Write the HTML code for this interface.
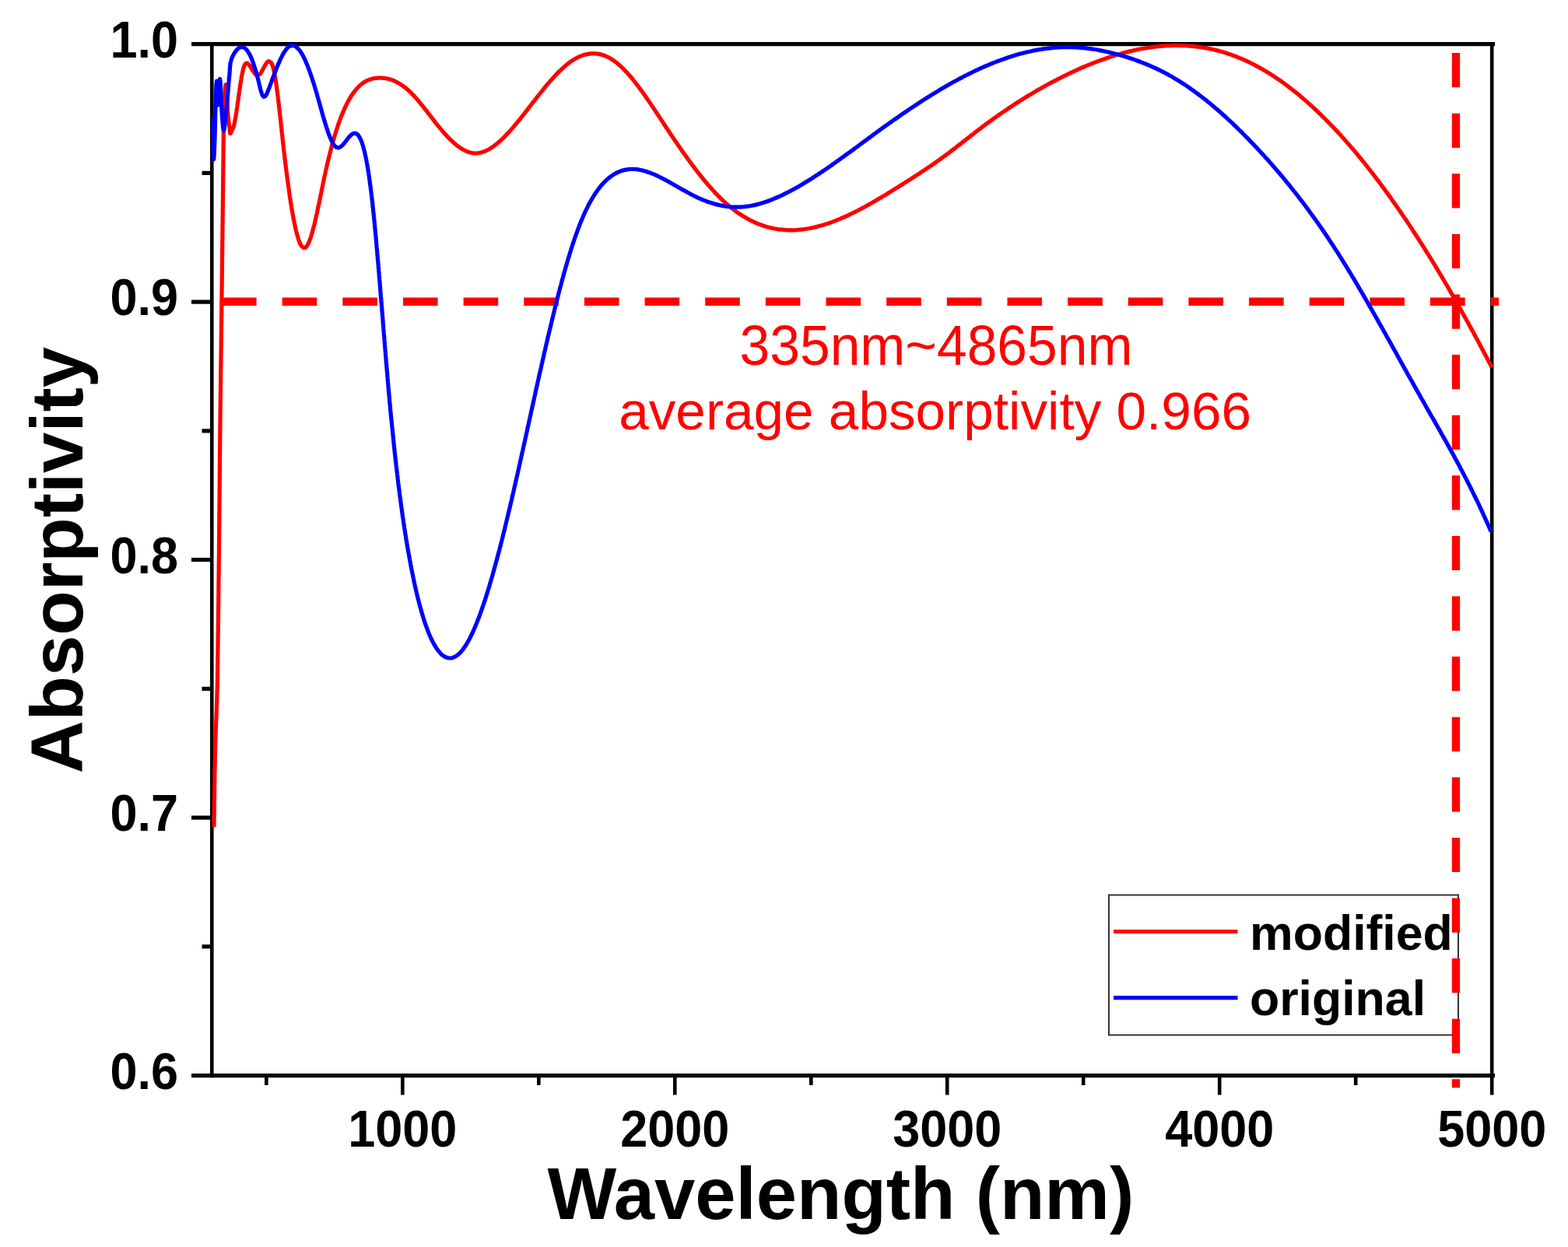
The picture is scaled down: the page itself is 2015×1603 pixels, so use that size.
<!DOCTYPE html><html><head><meta charset="utf-8"><title>Absorptivity vs Wavelength</title><style>html,body{margin:0;padding:0;background:#fff;overflow:hidden;}svg{display:block;}</style></head><body>
<svg width="2015" height="1603" viewBox="0 0 2015 1603">
<rect width="2015" height="1603" fill="#fff"/>
<g stroke="#000" fill="none">
<line x1="246" y1="56.6" x2="1921" y2="56.6" stroke-width="5.2"/>
<line x1="246" y1="1382.6" x2="1921" y2="1382.6" stroke-width="5.2"/>
<line x1="272.3" y1="54" x2="272.3" y2="1385.2" stroke-width="4.6"/>
<line x1="1917.2" y1="54" x2="1917.2" y2="1407.5" stroke-width="4.6"/>
<line x1="246" y1="388.1" x2="272.3" y2="388.1" stroke-width="5.2"/>
<line x1="246" y1="719.6" x2="272.3" y2="719.6" stroke-width="5.2"/>
<line x1="246" y1="1051.1" x2="272.3" y2="1051.1" stroke-width="5.2"/>
<line x1="259.5" y1="222.4" x2="272.3" y2="222.4" stroke-width="5.2"/>
<line x1="259.5" y1="553.9" x2="272.3" y2="553.9" stroke-width="5.2"/>
<line x1="259.5" y1="885.4" x2="272.3" y2="885.4" stroke-width="5.2"/>
<line x1="259.5" y1="1216.8" x2="272.3" y2="1216.8" stroke-width="5.2"/>
<line x1="517.3" y1="1382.6" x2="517.3" y2="1407.5" stroke-width="4.6"/>
<line x1="867.3" y1="1382.6" x2="867.3" y2="1407.5" stroke-width="4.6"/>
<line x1="1217.2" y1="1382.6" x2="1217.2" y2="1407.5" stroke-width="4.6"/>
<line x1="1567.2" y1="1382.6" x2="1567.2" y2="1407.5" stroke-width="4.6"/>
<line x1="342.3" y1="1382.6" x2="342.3" y2="1395" stroke-width="4.6"/>
<line x1="692.3" y1="1382.6" x2="692.3" y2="1395" stroke-width="4.6"/>
<line x1="1042.3" y1="1382.6" x2="1042.3" y2="1395" stroke-width="4.6"/>
<line x1="1392.2" y1="1382.6" x2="1392.2" y2="1395" stroke-width="4.6"/>
<line x1="1742.2" y1="1382.6" x2="1742.2" y2="1395" stroke-width="4.6"/>
</g>
<rect x="1425" y="1150.5" width="449" height="180" fill="none" stroke="#333" stroke-width="2"/>
<line x1="285" y1="387.8" x2="1926" y2="387.8" stroke="#ff0000" stroke-width="10.5" stroke-dasharray="44.6 33.05"/>
<line x1="1871" y1="68.1" x2="1871" y2="1398.2" stroke="#ff0000" stroke-width="10.3" stroke-dasharray="44.2 33.4"/>
<path d="M275.0,1063.0 C275.2,1046.7 275.8,997.2 276.5,965.0 C277.2,932.8 278.7,914.2 279.5,870.0 C280.3,825.8 280.9,755.0 281.5,700.0 C282.1,645.0 282.4,593.3 283.0,540.0 C283.6,486.7 284.4,428.3 285.0,380.0 C285.6,331.7 286.1,284.7 286.5,250.0 C286.9,215.3 287.0,192.3 287.3,172.0 C287.6,151.7 288.1,138.5 288.5,128.0 C288.9,117.5 289.5,110.0 290.0,109.0 C290.5,108.0 291.0,115.5 291.5,122.0 C292.0,128.5 292.4,141.0 293.0,148.0 C293.6,155.0 294.3,160.5 295.0,164.0 C295.7,167.5 294.6,176.1 297.4,169.0 L300.3,162.6 L301.1,159.4 L301.7,156.3 L302.3,153.2 L302.8,150.2 L303.3,147.1 L303.8,144.1 L304.2,141.1 L304.7,138.1 L305.1,135.1 L305.5,132.1 L306.0,129.1 L306.4,126.2 L306.8,123.2 L307.2,120.2 L307.6,117.3 L308.1,114.3 L308.5,111.4 L308.9,108.5 L309.4,105.5 L309.9,102.6 L310.3,99.7 L310.9,96.9 L311.4,94.0 L312.0,91.2 L312.6,88.5 L313.4,85.9 L314.3,83.5 L315.6,81.6 L317.7,81.1 L320.5,83.8 L322.2,86.5 L323.8,89.1 L325.4,91.6 L327.0,94.0 L328.8,96.0 L331.1,97.0 L334.1,95.2 L336.0,92.4 L337.5,89.6 L339.0,87.0 L340.4,84.4 L341.9,82.0 L343.5,79.8 L345.6,78.6 L348.6,80.7 L350.2,84.1 L351.2,87.4 L351.9,90.6 L352.6,93.7 L353.2,96.8 L353.7,99.9 L354.2,102.9 L354.7,106.0 L355.1,109.0 L355.5,112.0 L355.9,115.1 L356.3,118.1 L356.7,121.1 L357.1,124.1 L357.4,127.1 L357.8,130.1 L358.2,133.1 L358.5,136.1 L358.8,139.1 L359.2,142.1 L359.5,145.1 L359.8,148.1 L360.2,151.1 L360.5,154.1 L360.8,157.1 L361.1,160.1 L361.5,163.1 L361.8,166.0 L362.1,169.0 L362.4,172.0 L362.8,175.0 L363.1,177.9 L363.4,180.9 L363.7,183.9 L364.1,186.9 L364.4,189.8 L364.7,192.8 L365.1,195.8 L365.4,198.7 L365.8,201.7 L366.1,204.7 L366.5,207.6 L366.8,210.6 L367.2,213.5 L367.6,216.5 L367.9,219.5 L368.3,222.4 L368.7,225.4 L369.1,228.3 L369.5,231.3 L369.9,234.2 L370.3,237.2 L370.7,240.1 L371.1,243.1 L371.5,246.0 L371.9,249.0 L372.3,251.9 L372.8,254.9 L373.2,257.8 L373.7,260.7 L374.2,263.7 L374.6,266.6 L375.1,269.5 L375.6,272.4 L376.1,275.3 L376.7,278.3 L377.2,281.2 L377.8,284.1 L378.3,286.9 L379.0,289.8 L379.6,292.7 L380.2,295.5 L380.9,298.4 L381.7,301.2 L382.5,304.0 L383.3,306.7 L384.2,309.4 L385.2,312.0 L386.4,314.5 L387.8,316.7 L389.7,318.4 L392.3,318.4 L394.9,315.5 L396.5,312.5 L397.7,309.6 L398.8,306.6 L399.8,303.6 L400.7,300.6 L401.5,297.7 L402.3,294.7 L403.1,291.8 L403.9,288.8 L404.6,285.8 L405.3,282.9 L405.9,279.9 L406.6,277.0 L407.3,274.0 L407.9,271.1 L408.5,268.1 L409.1,265.2 L409.8,262.2 L410.4,259.3 L411.0,256.3 L411.6,253.4 L412.2,250.4 L412.8,247.5 L413.4,244.5 L414.0,241.6 L414.6,238.7 L415.2,235.7 L415.8,232.8 L416.4,229.9 L417.0,227.0 L417.7,224.1 L418.3,221.1 L418.9,218.2 L419.6,215.3 L420.2,212.4 L420.9,209.5 L421.6,206.6 L422.3,203.7 L423.0,200.8 L423.7,198.0 L424.4,195.1 L425.2,192.2 L425.9,189.3 L426.7,186.5 L427.5,183.6 L428.3,180.7 L429.1,177.9 L429.9,175.0 L430.8,172.2 L431.7,169.4 L432.6,166.5 L433.5,163.7 L434.4,160.9 L435.4,158.1 L436.4,155.3 L437.4,152.6 L438.5,149.8 L439.6,147.1 L440.7,144.3 L441.9,141.6 L443.1,138.9 L444.3,136.3 L445.6,133.6 L447.0,131.0 L448.4,128.5 L449.9,125.9 L451.4,123.4 L453.0,121.0 L454.7,118.6 L456.5,116.3 L458.4,114.1 L460.4,111.9 L462.5,109.9 L464.7,108.0 L467.0,106.3 L469.5,104.8 L472.1,103.4 L474.9,102.3 L477.7,101.4 L480.6,100.8 L483.5,100.3 L486.5,100.1 L489.5,100.1 L492.5,100.3 L495.5,100.7 L498.5,101.3 L501.4,102.1 L504.3,103.0 L507.1,104.2 L509.8,105.5 L512.5,107.0 L515.1,108.5 L517.6,110.3 L520.0,112.1 L522.4,114.0 L524.7,116.0 L526.9,118.0 L529.1,120.2 L531.2,122.4 L533.3,124.6 L535.3,126.9 L537.3,129.1 L539.2,131.5 L541.1,133.8 L543.0,136.1 L544.9,138.5 L546.7,140.9 L548.6,143.2 L550.4,145.6 L552.3,148.0 L554.1,150.4 L555.9,152.7 L557.8,155.1 L559.6,157.5 L561.5,159.8 L563.3,162.1 L565.2,164.4 L567.1,166.7 L569.1,169.0 L571.0,171.2 L573.0,173.4 L575.0,175.6 L577.1,177.8 L579.2,179.9 L581.4,181.9 L583.5,183.9 L585.8,185.8 L588.1,187.7 L590.5,189.4 L593.0,191.0 L595.5,192.5 L598.1,193.9 L600.8,195.0 L603.7,195.9 L606.5,196.6 L609.5,196.9 L612.5,197.0 L615.5,196.6 L618.4,196.0 L621.4,195.1 L624.2,194.0 L626.9,192.7 L629.6,191.2 L632.1,189.5 L634.6,187.8 L637.1,185.9 L639.4,184.0 L641.7,182.0 L644.0,180.0 L646.2,177.9 L648.3,175.8 L650.4,173.6 L652.5,171.4 L654.5,169.2 L656.5,166.9 L658.5,164.6 L660.5,162.4 L662.4,160.0 L664.4,157.7 L666.3,155.4 L668.2,153.1 L670.0,150.7 L671.9,148.4 L673.8,146.0 L675.6,143.6 L677.5,141.3 L679.3,138.9 L681.2,136.5 L683.0,134.2 L684.8,131.8 L686.7,129.4 L688.5,127.1 L690.4,124.7 L692.2,122.4 L694.1,120.0 L696.0,117.7 L697.8,115.3 L699.7,113.0 L701.6,110.7 L703.5,108.4 L705.5,106.1 L707.4,103.9 L709.4,101.6 L711.4,99.4 L713.4,97.2 L715.4,95.1 L717.5,92.9 L719.6,90.8 L721.8,88.8 L724.0,86.8 L726.2,84.8 L728.5,82.9 L730.8,81.1 L733.2,79.3 L735.6,77.7 L738.2,76.1 L740.7,74.7 L743.4,73.3 L746.1,72.2 L748.9,71.1 L751.7,70.3 L754.6,69.6 L757.6,69.1 L760.5,68.9 L763.5,68.8 L766.5,69.0 L769.5,69.4 L772.5,70.1 L775.4,71.0 L778.2,72.0 L781.0,73.3 L783.7,74.7 L786.3,76.3 L788.8,78.0 L791.3,79.8 L793.7,81.7 L796.0,83.7 L798.2,85.7 L800.4,87.8 L802.5,90.0 L804.6,92.2 L806.7,94.4 L808.7,96.7 L810.7,99.0 L812.6,101.3 L814.5,103.6 L816.4,106.0 L818.2,108.4 L820.0,110.8 L821.8,113.2 L823.6,115.6 L825.4,118.1 L827.2,120.5 L828.9,123.0 L830.6,125.5 L832.3,127.9 L834.0,130.4 L835.7,132.9 L837.4,135.4 L839.1,137.9 L840.7,140.4 L842.4,142.9 L844.0,145.4 L845.7,147.9 L847.3,150.4 L849.0,152.9 L850.6,155.5 L852.3,158.0 L853.9,160.5 L855.6,163.0 L857.2,165.5 L858.9,168.0 L860.5,170.5 L862.2,173.0 L863.9,175.4 L865.5,177.9 L867.2,180.4 L868.9,182.9 L870.6,185.4 L872.3,187.8 L874.0,190.3 L875.7,192.7 L877.4,195.2 L879.1,197.6 L880.9,200.1 L882.6,202.5 L884.4,204.9 L886.1,207.4 L887.9,209.8 L889.7,212.2 L891.5,214.6 L893.3,216.9 L895.1,219.3 L896.9,221.7 L898.8,224.0 L900.7,226.4 L902.5,228.7 L904.4,231.0 L906.3,233.3 L908.2,235.6 L910.2,237.9 L912.1,240.1 L914.1,242.3 L916.1,244.5 L918.2,246.7 L920.2,248.9 L922.3,251.1 L924.4,253.2 L926.5,255.3 L928.6,257.3 L930.8,259.4 L933.0,261.4 L935.3,263.3 L937.5,265.3 L939.8,267.2 L942.2,269.0 L944.5,270.8 L946.9,272.6 L949.4,274.3 L951.9,275.9 L954.4,277.5 L956.9,279.1 L959.5,280.6 L962.1,282.0 L964.7,283.4 L967.4,284.7 L970.1,286.0 L972.9,287.2 L975.6,288.3 L978.4,289.3 L981.3,290.3 L984.1,291.2 L987.0,292.0 L989.9,292.7 L992.8,293.4 L995.7,294.0 L998.7,294.5 L1001.6,294.9 L1004.6,295.2 L1007.6,295.5 L1010.6,295.7 L1013.6,295.8 L1016.6,295.8 L1019.6,295.8 L1022.6,295.7 L1025.6,295.5 L1028.6,295.2 L1031.6,294.9 L1034.5,294.5 L1037.5,294.0 L1040.5,293.5 L1043.4,292.9 L1046.3,292.3 L1049.3,291.6 L1052.2,290.8 L1055.1,290.0 L1058.0,289.2 L1060.8,288.3 L1063.7,287.4 L1066.5,286.4 L1069.4,285.4 L1072.2,284.3 L1075.0,283.2 L1077.8,282.1 L1080.6,280.9 L1083.3,279.7 L1086.1,278.5 L1088.8,277.3 L1091.5,276.0 L1094.2,274.7 L1096.9,273.4 L1099.6,272.0 L1102.3,270.7 L1105.0,269.3 L1107.6,267.9 L1110.3,266.4 L1112.9,265.0 L1115.5,263.5 L1118.2,262.1 L1120.8,260.6 L1123.4,259.1 L1126.0,257.6 L1128.5,256.0 L1131.1,254.5 L1133.7,253.0 L1136.3,251.4 L1138.8,249.9 L1141.4,248.3 L1144.0,246.7 L1146.5,245.1 L1149.1,243.5 L1151.6,242.0 L1154.2,240.4 L1156.7,238.8 L1159.2,237.2 L1161.8,235.6 L1164.3,234.0 L1166.8,232.3 L1169.4,230.7 L1171.9,229.1 L1174.4,227.5 L1177.0,225.9 L1179.5,224.2 L1182.0,222.6 L1184.5,220.9 L1187.0,219.3 L1189.5,217.6 L1192.0,215.9 L1194.5,214.3 L1197.0,212.6 L1199.4,210.8 L1201.9,209.1 L1204.3,207.4 L1206.8,205.7 L1209.2,203.9 L1211.7,202.1 L1214.1,200.4 L1216.5,198.6 L1218.9,196.8 L1221.3,195.0 L1223.7,193.1 L1226.1,191.3 L1228.5,189.5 L1230.8,187.6 L1233.2,185.8 L1235.6,184.0 L1237.9,182.1 L1240.3,180.3 L1242.7,178.4 L1245.0,176.6 L1247.4,174.7 L1249.8,172.9 L1252.1,171.0 L1254.5,169.2 L1256.9,167.4 L1259.3,165.6 L1261.6,163.8 L1264.0,161.9 L1266.4,160.2 L1268.8,158.4 L1271.3,156.6 L1273.7,154.8 L1276.1,153.1 L1278.5,151.3 L1281.0,149.6 L1283.4,147.9 L1285.9,146.2 L1288.3,144.5 L1290.8,142.8 L1293.3,141.1 L1295.8,139.4 L1298.3,137.7 L1300.8,136.1 L1303.3,134.4 L1305.8,132.8 L1308.3,131.2 L1310.8,129.6 L1313.4,128.0 L1315.9,126.4 L1318.5,124.8 L1321.0,123.3 L1323.6,121.7 L1326.2,120.2 L1328.7,118.7 L1331.3,117.1 L1333.9,115.6 L1336.5,114.2 L1339.1,112.7 L1341.7,111.2 L1344.4,109.8 L1347.0,108.3 L1349.6,106.9 L1352.3,105.5 L1354.9,104.1 L1357.6,102.7 L1360.2,101.3 L1362.9,100.0 L1365.6,98.7 L1368.3,97.3 L1371.0,96.0 L1373.7,94.7 L1376.4,93.4 L1379.1,92.2 L1381.8,90.9 L1384.5,89.7 L1387.3,88.4 L1390.0,87.2 L1392.8,86.0 L1395.5,84.9 L1398.3,83.7 L1401.1,82.6 L1403.8,81.5 L1406.6,80.4 L1409.4,79.3 L1412.2,78.2 L1415.0,77.2 L1417.9,76.2 L1420.7,75.2 L1423.5,74.2 L1426.4,73.3 L1429.2,72.3 L1432.1,71.4 L1434.9,70.6 L1437.8,69.7 L1440.7,68.9 L1443.6,68.1 L1446.5,67.3 L1449.4,66.6 L1452.3,65.9 L1455.2,65.2 L1458.1,64.5 L1461.0,63.9 L1464.0,63.3 L1466.9,62.7 L1469.9,62.2 L1472.8,61.7 L1475.8,61.2 L1478.8,60.8 L1481.7,60.4 L1484.7,60.0 L1487.7,59.7 L1490.7,59.4 L1493.7,59.1 L1496.6,58.9 L1499.6,58.7 L1502.6,58.6 L1505.6,58.5 L1508.6,58.4 L1511.6,58.4 L1514.6,58.4 L1517.6,58.5 L1520.6,58.6 L1523.6,58.7 L1526.6,58.9 L1529.6,59.1 L1532.6,59.4 L1535.6,59.7 L1538.6,60.1 L1541.5,60.5 L1544.5,60.9 L1547.5,61.4 L1550.4,61.9 L1553.4,62.5 L1556.3,63.1 L1559.3,63.7 L1562.2,64.4 L1565.1,65.1 L1568.0,65.9 L1570.9,66.7 L1573.8,67.6 L1576.6,68.5 L1579.5,69.4 L1582.3,70.4 L1585.2,71.5 L1588.0,72.5 L1590.8,73.6 L1593.6,74.8 L1596.3,75.9 L1599.1,77.1 L1601.8,78.4 L1604.6,79.7 L1607.3,81.0 L1610.0,82.3 L1612.6,83.7 L1615.3,85.1 L1617.9,86.6 L1620.5,88.0 L1623.2,89.5 L1625.8,91.1 L1628.3,92.6 L1630.9,94.2 L1633.4,95.8 L1636.0,97.4 L1638.5,99.1 L1641.0,100.8 L1643.5,102.5 L1645.9,104.2 L1648.4,105.9 L1650.8,107.7 L1653.2,109.5 L1655.6,111.3 L1658.0,113.1 L1660.4,115.0 L1662.8,116.8 L1665.1,118.7 L1667.4,120.6 L1669.8,122.5 L1672.1,124.5 L1674.4,126.4 L1676.6,128.4 L1678.9,130.4 L1681.2,132.4 L1683.4,134.4 L1685.6,136.4 L1687.8,138.4 L1690.1,140.5 L1692.2,142.5 L1694.4,144.6 L1696.6,146.7 L1698.7,148.8 L1700.9,150.9 L1703.0,153.0 L1705.1,155.2 L1707.2,157.3 L1709.3,159.5 L1711.4,161.6 L1713.5,163.8 L1715.6,166.0 L1717.6,168.2 L1719.7,170.4 L1721.7,172.6 L1723.7,174.8 L1725.7,177.1 L1727.7,179.3 L1729.7,181.6 L1731.7,183.8 L1733.7,186.1 L1735.7,188.4 L1737.6,190.7 L1739.6,192.9 L1741.5,195.2 L1743.4,197.5 L1745.4,199.9 L1747.3,202.2 L1749.2,204.5 L1751.1,206.8 L1753.0,209.2 L1754.8,211.5 L1756.7,213.9 L1758.6,216.2 L1760.4,218.6 L1762.3,221.0 L1764.1,223.4 L1765.9,225.7 L1767.8,228.1 L1769.6,230.5 L1771.4,232.9 L1773.2,235.3 L1775.0,237.7 L1776.8,240.2 L1778.6,242.6 L1780.3,245.0 L1782.1,247.4 L1783.9,249.9 L1785.6,252.3 L1787.4,254.8 L1789.1,257.2 L1790.8,259.7 L1792.6,262.1 L1794.3,264.6 L1796.0,267.0 L1797.7,269.5 L1799.4,272.0 L1801.1,274.5 L1802.8,277.0 L1804.5,279.4 L1806.2,281.9 L1807.9,284.4 L1809.5,286.9 L1811.2,289.4 L1812.8,291.9 L1814.5,294.4 L1816.1,297.0 L1817.8,299.5 L1819.4,302.0 L1821.1,304.5 L1822.7,307.0 L1824.3,309.6 L1825.9,312.1 L1827.5,314.6 L1829.1,317.2 L1830.7,319.7 L1832.3,322.3 L1833.9,324.8 L1835.5,327.4 L1837.1,329.9 L1838.7,332.5 L1840.2,335.0 L1841.8,337.6 L1843.4,340.2 L1844.9,342.7 L1846.5,345.3 L1848.0,347.9 L1849.6,350.5 L1851.1,353.0 L1852.7,355.6 L1854.2,358.2 L1855.7,360.8 L1857.2,363.4 L1858.8,366.0 L1860.3,368.6 L1861.8,371.2 L1863.3,373.8 L1864.8,376.4 L1866.3,379.0 L1867.8,381.6 L1869.3,384.2 L1870.8,386.8 L1872.3,389.4 L1873.7,392.0 L1875.2,394.6 L1876.7,397.2 L1878.2,399.9 L1879.6,402.5 L1881.1,405.1 L1882.5,407.7 L1884.0,410.4 L1885.5,413.0 L1886.9,415.6 L1888.3,418.3 L1889.8,420.9 L1891.2,423.5 L1892.7,426.2 L1894.1,428.8 L1895.5,431.5 L1896.9,434.1 L1898.4,436.7 L1899.8,439.4 L1901.2,442.0 L1902.6,444.7 L1904.0,447.3 L1905.4,450.0 L1906.8,452.7 L1908.2,455.3 L1909.6,458.0 L1911.0,460.6 L1912.4,463.3 L1913.8,466.0 L1915.2,468.6 L1916.6,471.3 L1917.0,472.1" fill="none" stroke="#ff0000" stroke-width="5.2" stroke-linejoin="round" stroke-linecap="butt"/>
<path d="M273.8,150.0 C273.9,159.0 274.1,199.3 274.5,204.0 C274.9,208.7 275.5,192.3 276.0,178.0 C276.5,163.7 277.0,130.2 277.5,118.0 C278.0,105.8 278.5,102.2 279.0,105.0 C279.5,107.8 279.9,134.2 280.3,135.0 C280.7,135.8 281.1,115.2 281.5,110.0 C281.9,104.8 282.4,97.7 283.0,104.0 C283.6,110.3 284.6,137.3 285.3,148.0 C286.1,158.7 286.7,167.7 287.5,168.0 C288.3,168.3 289.2,157.3 290.0,150.0 C290.8,142.7 291.7,133.2 292.5,124.0 C293.3,114.8 294.1,103.2 295.0,95.0 C295.9,86.8 294.5,83.2 297.8,74.9 L299.0,72.3 L300.4,69.8 L301.8,67.3 L303.5,65.0 L305.3,63.0 L307.5,61.3 L310.1,60.4 L313.1,60.9 L315.8,62.8 L318.0,65.3 L319.7,68.1 L321.3,70.9 L322.6,73.7 L323.8,76.6 L324.9,79.5 L325.9,82.5 L326.9,85.4 L327.8,88.3 L328.7,91.3 L329.5,94.2 L330.3,97.2 L331.1,100.1 L331.9,103.0 L332.6,106.0 L333.3,108.9 L334.0,111.8 L334.7,114.7 L335.5,117.5 L336.3,120.1 L337.3,122.6 L338.6,124.4 L341.0,123.7 L343.0,120.4 L344.2,117.4 L345.3,114.5 L346.4,111.7 L347.4,108.9 L348.5,106.1 L349.5,103.2 L350.5,100.4 L351.6,97.6 L352.6,94.8 L353.7,92.1 L354.8,89.3 L355.9,86.5 L357.0,83.8 L358.2,81.1 L359.4,78.4 L360.6,75.7 L361.9,73.1 L363.2,70.5 L364.6,68.0 L366.2,65.5 L367.9,63.2 L369.7,61.2 L371.9,59.5 L374.5,58.5 L377.4,58.6 L380.3,60.0 L382.8,62.2 L384.9,64.6 L386.7,67.2 L388.3,69.9 L389.8,72.6 L391.2,75.4 L392.5,78.2 L393.7,81.0 L394.9,83.8 L396.0,86.7 L397.1,89.5 L398.1,92.4 L399.2,95.3 L400.1,98.2 L401.1,101.0 L402.0,103.9 L403.0,106.8 L403.9,109.7 L404.7,112.6 L405.6,115.5 L406.5,118.4 L407.3,121.3 L408.1,124.2 L409.0,127.1 L409.8,130.0 L410.6,132.9 L411.4,135.8 L412.2,138.7 L413.0,141.5 L413.8,144.4 L414.6,147.3 L415.4,150.2 L416.3,153.0 L417.1,155.9 L418.0,158.7 L418.9,161.6 L419.8,164.4 L420.7,167.2 L421.6,170.0 L422.6,172.7 L423.7,175.4 L424.8,178.1 L426.0,180.7 L427.3,183.3 L428.7,185.7 L430.4,187.8 L432.4,189.5 L435.1,189.9 L438.0,188.5 L440.4,186.3 L442.5,184.0 L444.4,181.5 L446.2,179.2 L448.0,176.8 L449.9,174.7 L452.0,172.8 L454.4,171.4 L457.2,171.3 L460.1,173.4 L462.0,176.3 L463.5,179.3 L464.7,182.3 L465.7,185.3 L466.7,188.3 L467.5,191.3 L468.3,194.4 L469.0,197.4 L469.6,200.4 L470.3,203.4 L470.9,206.4 L471.4,209.4 L472.0,212.5 L472.5,215.5 L473.0,218.5 L473.5,221.5 L473.9,224.5 L474.4,227.5 L474.8,230.6 L475.2,233.6 L475.6,236.6 L476.0,239.6 L476.4,242.6 L476.8,245.6 L477.2,248.6 L477.5,251.7 L477.9,254.7 L478.2,257.7 L478.6,260.7 L478.9,263.7 L479.2,266.7 L479.5,269.7 L479.8,272.7 L480.2,275.7 L480.5,278.7 L480.8,281.7 L481.1,284.7 L481.4,287.7 L481.6,290.7 L481.9,293.7 L482.2,296.7 L482.5,299.8 L482.8,302.8 L483.1,305.8 L483.3,308.8 L483.6,311.8 L483.9,314.8 L484.1,317.7 L484.4,320.7 L484.7,323.7 L484.9,326.7 L485.2,329.7 L485.4,332.7 L485.7,335.7 L486.0,338.7 L486.2,341.7 L486.5,344.7 L486.7,347.7 L487.0,350.7 L487.2,353.7 L487.5,356.7 L487.7,359.7 L488.0,362.7 L488.2,365.7 L488.5,368.7 L488.7,371.7 L488.9,374.7 L489.2,377.7 L489.4,380.7 L489.7,383.6 L489.9,386.6 L490.2,389.6 L490.4,392.6 L490.7,395.6 L490.9,398.6 L491.1,401.6 L491.4,404.6 L491.6,407.6 L491.9,410.6 L492.1,413.6 L492.3,416.6 L492.6,419.5 L492.8,422.5 L493.1,425.5 L493.3,428.5 L493.6,431.5 L493.8,434.5 L494.0,437.5 L494.3,440.5 L494.5,443.4 L494.8,446.4 L495.0,449.4 L495.3,452.4 L495.5,455.4 L495.8,458.4 L496.0,461.4 L496.2,464.3 L496.5,467.3 L496.7,470.3 L497.0,473.3 L497.2,476.3 L497.5,479.3 L497.8,482.2 L498.0,485.2 L498.3,488.2 L498.5,491.2 L498.8,494.2 L499.0,497.2 L499.3,500.1 L499.6,503.1 L499.8,506.1 L500.1,509.1 L500.4,512.0 L500.6,515.0 L500.9,518.0 L501.2,521.0 L501.5,524.0 L501.7,526.9 L502.0,529.9 L502.3,532.9 L502.6,535.9 L502.9,538.8 L503.2,541.8 L503.5,544.8 L503.8,547.8 L504.1,550.7 L504.4,553.7 L504.7,556.7 L505.0,559.6 L505.3,562.6 L505.6,565.6 L505.9,568.6 L506.2,571.5 L506.5,574.5 L506.8,577.5 L507.1,580.4 L507.5,583.4 L507.8,586.4 L508.1,589.4 L508.5,592.3 L508.8,595.3 L509.1,598.3 L509.5,601.2 L509.8,604.2 L510.2,607.2 L510.5,610.1 L510.9,613.1 L511.2,616.1 L511.6,619.0 L511.9,622.0 L512.3,624.9 L512.7,627.9 L513.1,630.9 L513.4,633.8 L513.8,636.8 L514.2,639.7 L514.6,642.7 L515.0,645.7 L515.4,648.6 L515.8,651.6 L516.2,654.5 L516.6,657.5 L517.0,660.4 L517.4,663.4 L517.9,666.3 L518.3,669.3 L518.7,672.2 L519.2,675.2 L519.6,678.1 L520.1,681.1 L520.5,684.0 L521.0,687.0 L521.5,689.9 L521.9,692.9 L522.4,695.8 L522.9,698.7 L523.4,701.7 L523.9,704.6 L524.4,707.6 L524.9,710.5 L525.5,713.4 L526.0,716.4 L526.5,719.3 L527.1,722.2 L527.6,725.2 L528.2,728.1 L528.7,731.0 L529.3,733.9 L529.9,736.8 L530.5,739.8 L531.1,742.7 L531.7,745.6 L532.3,748.5 L532.9,751.4 L533.6,754.3 L534.2,757.2 L534.9,760.1 L535.6,763.0 L536.3,765.9 L537.0,768.8 L537.7,771.6 L538.4,774.5 L539.2,777.4 L540.0,780.3 L540.8,783.1 L541.6,786.0 L542.4,788.8 L543.2,791.6 L544.1,794.5 L545.0,797.3 L545.9,800.1 L546.9,802.9 L547.9,805.7 L548.9,808.4 L549.9,811.2 L551.0,813.9 L552.1,816.6 L553.3,819.3 L554.6,822.0 L555.9,824.6 L557.2,827.2 L558.7,829.7 L560.2,832.2 L561.8,834.6 L563.5,836.9 L565.4,839.1 L567.4,841.2 L569.6,843.0 L572.1,844.5 L574.7,845.5 L577.6,846.0 L580.6,845.8 L583.5,844.8 L586.3,843.3 L588.8,841.4 L591.1,839.3 L593.2,837.0 L595.1,834.6 L596.9,832.0 L598.6,829.5 L600.2,826.8 L601.7,824.2 L603.2,821.5 L604.6,818.8 L606.0,816.0 L607.3,813.3 L608.5,810.5 L609.7,807.7 L610.9,804.9 L612.1,802.1 L613.2,799.3 L614.3,796.5 L615.4,793.6 L616.5,790.8 L617.5,788.0 L618.5,785.1 L619.5,782.3 L620.5,779.4 L621.5,776.5 L622.4,773.7 L623.4,770.8 L624.3,767.9 L625.2,765.0 L626.1,762.2 L627.0,759.3 L627.9,756.4 L628.8,753.5 L629.6,750.6 L630.5,747.7 L631.3,744.8 L632.2,741.9 L633.0,739.0 L633.8,736.1 L634.6,733.2 L635.4,730.3 L636.2,727.4 L637.0,724.5 L637.8,721.6 L638.6,718.7 L639.4,715.8 L640.1,712.9 L640.9,710.0 L641.7,707.1 L642.4,704.1 L643.2,701.2 L643.9,698.3 L644.7,695.4 L645.4,692.5 L646.1,689.6 L646.8,686.6 L647.6,683.7 L648.3,680.8 L649.0,677.9 L649.7,675.0 L650.4,672.0 L651.1,669.1 L651.8,666.2 L652.5,663.3 L653.2,660.3 L653.9,657.4 L654.6,654.5 L655.3,651.6 L656.0,648.6 L656.7,645.7 L657.4,642.8 L658.0,639.9 L658.7,636.9 L659.4,634.0 L660.1,631.1 L660.7,628.1 L661.4,625.2 L662.1,622.3 L662.7,619.4 L663.4,616.4 L664.0,613.5 L664.7,610.6 L665.4,607.6 L666.0,604.7 L666.7,601.8 L667.3,598.8 L668.0,595.9 L668.6,593.0 L669.3,590.1 L669.9,587.1 L670.6,584.2 L671.2,581.3 L671.9,578.3 L672.5,575.4 L673.2,572.5 L673.8,569.5 L674.5,566.6 L675.1,563.7 L675.8,560.7 L676.4,557.8 L677.1,554.9 L677.7,552.0 L678.3,549.0 L679.0,546.1 L679.6,543.2 L680.3,540.2 L680.9,537.3 L681.6,534.4 L682.2,531.4 L682.8,528.5 L683.5,525.6 L684.1,522.7 L684.8,519.7 L685.4,516.8 L686.1,513.9 L686.7,510.9 L687.4,508.0 L688.0,505.1 L688.6,502.2 L689.3,499.2 L689.9,496.3 L690.6,493.4 L691.2,490.4 L691.9,487.5 L692.5,484.6 L693.2,481.7 L693.8,478.7 L694.5,475.8 L695.2,472.9 L695.8,470.0 L696.5,467.0 L697.1,464.1 L697.8,461.2 L698.5,458.3 L699.1,455.4 L699.8,452.4 L700.5,449.5 L701.1,446.6 L701.8,443.7 L702.5,440.8 L703.2,437.8 L703.8,434.9 L704.5,432.0 L705.2,429.1 L705.9,426.2 L706.6,423.3 L707.3,420.3 L708.0,417.4 L708.7,414.5 L709.4,411.6 L710.1,408.7 L710.8,405.8 L711.5,402.9 L712.2,400.0 L712.9,397.1 L713.6,394.2 L714.4,391.3 L715.1,388.4 L715.8,385.5 L716.5,382.6 L717.3,379.7 L718.0,376.8 L718.8,373.9 L719.5,371.0 L720.3,368.1 L721.1,365.2 L721.8,362.3 L722.6,359.4 L723.4,356.6 L724.2,353.7 L725.0,350.8 L725.8,347.9 L726.6,345.0 L727.4,342.2 L728.3,339.3 L729.1,336.4 L729.9,333.6 L730.8,330.7 L731.7,327.9 L732.5,325.0 L733.4,322.2 L734.3,319.3 L735.2,316.5 L736.1,313.7 L737.1,310.8 L738.0,308.0 L739.0,305.2 L740.0,302.4 L741.0,299.6 L742.0,296.8 L743.0,294.0 L744.1,291.2 L745.1,288.5 L746.2,285.7 L747.4,283.0 L748.5,280.2 L749.7,277.5 L750.9,274.8 L752.1,272.1 L753.4,269.4 L754.7,266.8 L756.0,264.1 L757.4,261.5 L758.8,258.9 L760.3,256.4 L761.8,253.8 L763.3,251.3 L764.9,248.8 L766.6,246.4 L768.3,244.0 L770.1,241.6 L771.9,239.3 L773.8,237.1 L775.8,234.9 L777.9,232.8 L780.0,230.8 L782.3,228.9 L784.6,227.1 L787.0,225.4 L789.5,223.8 L792.1,222.4 L794.7,221.1 L797.5,220.0 L800.3,219.1 L803.2,218.4 L806.1,217.9 L809.1,217.5 L812.1,217.4 L815.1,217.5 L818.1,217.7 L821.1,218.1 L824.0,218.7 L827.0,219.4 L829.9,220.2 L832.7,221.2 L835.6,222.2 L838.4,223.3 L841.2,224.4 L843.9,225.7 L846.6,227.0 L849.3,228.3 L852.0,229.7 L854.7,231.1 L857.3,232.5 L860.0,233.9 L862.6,235.4 L865.2,236.9 L867.8,238.4 L870.4,239.9 L873.0,241.4 L875.6,242.9 L878.2,244.4 L880.8,245.8 L883.4,247.3 L886.1,248.7 L888.7,250.1 L891.4,251.5 L894.0,252.8 L896.7,254.1 L899.5,255.3 L902.2,256.5 L905.0,257.6 L907.8,258.7 L910.6,259.7 L913.4,260.6 L916.3,261.5 L919.1,262.4 L922.0,263.1 L925.0,263.8 L927.9,264.4 L930.8,264.9 L933.8,265.3 L936.8,265.7 L939.7,266.0 L942.7,266.1 L945.7,266.2 L948.7,266.2 L951.7,266.1 L954.7,265.9 L957.7,265.6 L960.7,265.2 L963.7,264.8 L966.6,264.2 L969.6,263.6 L972.5,262.9 L975.4,262.2 L978.3,261.3 L981.2,260.5 L984.0,259.5 L986.9,258.5 L989.7,257.5 L992.5,256.4 L995.3,255.2 L998.1,254.0 L1000.8,252.8 L1003.5,251.6 L1006.3,250.3 L1009.0,248.9 L1011.6,247.6 L1014.3,246.2 L1017.0,244.8 L1019.6,243.4 L1022.2,241.9 L1024.9,240.4 L1027.5,238.9 L1030.1,237.4 L1032.6,235.9 L1035.2,234.3 L1037.8,232.7 L1040.3,231.2 L1042.9,229.6 L1045.4,227.9 L1047.9,226.3 L1050.5,224.7 L1053.0,223.0 L1055.5,221.3 L1058.0,219.7 L1060.4,218.0 L1062.9,216.3 L1065.4,214.6 L1067.9,212.9 L1070.3,211.1 L1072.8,209.4 L1075.2,207.7 L1077.7,205.9 L1080.1,204.2 L1082.5,202.4 L1085.0,200.7 L1087.4,198.9 L1089.8,197.1 L1092.3,195.4 L1094.7,193.6 L1097.1,191.8 L1099.5,190.0 L1101.9,188.3 L1104.3,186.5 L1106.8,184.7 L1109.2,182.9 L1111.6,181.1 L1114.0,179.4 L1116.4,177.6 L1118.8,175.8 L1121.2,174.0 L1123.7,172.2 L1126.1,170.5 L1128.5,168.7 L1130.9,166.9 L1133.4,165.2 L1135.8,163.4 L1138.2,161.7 L1140.7,159.9 L1143.1,158.2 L1145.6,156.5 L1148.0,154.7 L1150.5,153.0 L1152.9,151.3 L1155.4,149.6 L1157.8,147.9 L1160.3,146.2 L1162.8,144.5 L1165.2,142.8 L1167.7,141.1 L1170.2,139.4 L1172.7,137.8 L1175.2,136.1 L1177.7,134.5 L1180.2,132.8 L1182.7,131.2 L1185.2,129.5 L1187.8,127.9 L1190.3,126.3 L1192.8,124.7 L1195.4,123.1 L1197.9,121.5 L1200.5,120.0 L1203.0,118.4 L1205.6,116.9 L1208.1,115.3 L1210.7,113.8 L1213.3,112.3 L1215.9,110.8 L1218.5,109.3 L1221.1,107.8 L1223.7,106.3 L1226.3,104.9 L1229.0,103.5 L1231.6,102.0 L1234.2,100.6 L1236.9,99.2 L1239.6,97.8 L1242.2,96.5 L1244.9,95.1 L1247.6,93.8 L1250.3,92.5 L1253.0,91.2 L1255.7,89.9 L1258.4,88.7 L1261.1,87.4 L1263.9,86.2 L1266.6,85.0 L1269.4,83.8 L1272.1,82.7 L1274.9,81.5 L1277.7,80.4 L1280.5,79.3 L1283.3,78.3 L1286.1,77.2 L1288.9,76.2 L1291.7,75.2 L1294.5,74.2 L1297.4,73.3 L1300.2,72.4 L1303.1,71.5 L1306.0,70.6 L1308.9,69.8 L1311.7,69.0 L1314.6,68.3 L1317.5,67.5 L1320.5,66.8 L1323.4,66.2 L1326.3,65.5 L1329.2,64.9 L1332.2,64.4 L1335.1,63.8 L1338.1,63.4 L1341.1,62.9 L1344.0,62.5 L1347.0,62.1 L1350.0,61.8 L1353.0,61.5 L1355.9,61.2 L1358.9,61.0 L1361.9,60.9 L1364.9,60.7 L1367.9,60.7 L1370.9,60.6 L1373.9,60.6 L1376.9,60.7 L1379.9,60.8 L1382.9,60.9 L1385.9,61.1 L1388.9,61.3 L1391.9,61.6 L1394.9,61.9 L1397.9,62.3 L1400.8,62.6 L1403.8,63.1 L1406.8,63.5 L1409.8,64.0 L1412.7,64.6 L1415.7,65.1 L1418.6,65.7 L1421.5,66.4 L1424.5,67.0 L1427.4,67.7 L1430.3,68.4 L1433.2,69.2 L1436.1,70.0 L1439.0,70.8 L1441.9,71.6 L1444.8,72.5 L1447.6,73.3 L1450.5,74.3 L1453.4,75.2 L1456.2,76.1 L1459.0,77.1 L1461.9,78.2 L1464.7,79.2 L1467.5,80.3 L1470.3,81.4 L1473.1,82.5 L1475.9,83.7 L1478.6,84.9 L1481.4,86.1 L1484.1,87.3 L1486.8,88.6 L1489.5,89.9 L1492.2,91.2 L1494.9,92.6 L1497.6,94.0 L1500.2,95.4 L1502.9,96.9 L1505.5,98.3 L1508.1,99.9 L1510.7,101.4 L1513.3,103.0 L1515.8,104.5 L1518.3,106.2 L1520.9,107.8 L1523.4,109.4 L1525.9,111.1 L1528.4,112.8 L1530.8,114.6 L1533.3,116.3 L1535.7,118.1 L1538.1,119.8 L1540.5,121.6 L1542.9,123.5 L1545.3,125.3 L1547.7,127.2 L1550.1,129.0 L1552.4,130.9 L1554.7,132.8 L1557.0,134.7 L1559.4,136.7 L1561.6,138.6 L1563.9,140.6 L1566.2,142.5 L1568.5,144.5 L1570.7,146.5 L1572.9,148.5 L1575.2,150.5 L1577.4,152.6 L1579.6,154.6 L1581.8,156.7 L1584.0,158.7 L1586.2,160.8 L1588.3,162.9 L1590.5,165.0 L1592.6,167.1 L1594.8,169.2 L1596.9,171.3 L1599.0,173.5 L1601.1,175.6 L1603.2,177.7 L1605.3,179.9 L1607.4,182.1 L1609.5,184.2 L1611.6,186.4 L1613.6,188.6 L1615.7,190.8 L1617.7,193.0 L1619.8,195.2 L1621.8,197.4 L1623.8,199.6 L1625.8,201.9 L1627.9,204.1 L1629.9,206.3 L1631.9,208.6 L1633.8,210.8 L1635.8,213.1 L1637.8,215.4 L1639.8,217.7 L1641.7,219.9 L1643.7,222.2 L1645.6,224.5 L1647.5,226.8 L1649.5,229.1 L1651.4,231.4 L1653.3,233.8 L1655.2,236.1 L1657.1,238.4 L1659.0,240.8 L1660.8,243.1 L1662.7,245.5 L1664.6,247.8 L1666.4,250.2 L1668.3,252.6 L1670.1,255.0 L1671.9,257.3 L1673.8,259.7 L1675.6,262.1 L1677.4,264.5 L1679.2,267.0 L1681.0,269.4 L1682.7,271.8 L1684.5,274.2 L1686.3,276.7 L1688.0,279.1 L1689.8,281.5 L1691.5,284.0 L1693.3,286.4 L1695.0,288.9 L1696.7,291.4 L1698.4,293.8 L1700.1,296.3 L1701.8,298.8 L1703.5,301.3 L1705.2,303.8 L1706.9,306.3 L1708.5,308.8 L1710.2,311.3 L1711.8,313.8 L1713.5,316.3 L1715.1,318.9 L1716.7,321.4 L1718.4,323.9 L1720.0,326.4 L1721.6,329.0 L1723.2,331.5 L1724.8,334.1 L1726.4,336.6 L1727.9,339.2 L1729.5,341.7 L1731.1,344.3 L1732.7,346.9 L1734.2,349.4 L1735.8,352.0 L1737.3,354.6 L1738.9,357.2 L1740.4,359.7 L1741.9,362.3 L1743.5,364.9 L1745.0,367.5 L1746.5,370.1 L1748.0,372.7 L1749.6,375.3 L1751.1,377.9 L1752.6,380.5 L1754.1,383.1 L1755.6,385.7 L1757.1,388.3 L1758.6,390.9 L1760.1,393.5 L1761.6,396.1 L1763.1,398.7 L1764.5,401.3 L1766.0,403.9 L1767.5,406.5 L1769.0,409.1 L1770.5,411.7 L1771.9,414.4 L1773.4,417.0 L1774.9,419.6 L1776.4,422.2 L1777.8,424.8 L1779.3,427.4 L1780.8,430.1 L1782.2,432.7 L1783.7,435.3 L1785.2,437.9 L1786.6,440.5 L1788.1,443.2 L1789.5,445.8 L1791.0,448.4 L1792.5,451.0 L1793.9,453.6 L1795.4,456.3 L1796.8,458.9 L1798.3,461.5 L1799.8,464.1 L1801.2,466.8 L1802.7,469.4 L1804.1,472.0 L1805.6,474.6 L1807.0,477.2 L1808.5,479.9 L1810.0,482.5 L1811.4,485.1 L1812.9,487.7 L1814.4,490.3 L1815.8,492.9 L1817.3,495.6 L1818.8,498.2 L1820.2,500.8 L1821.7,503.4 L1823.2,506.0 L1824.7,508.6 L1826.1,511.2 L1827.6,513.8 L1829.1,516.4 L1830.6,519.0 L1832.1,521.7 L1833.5,524.3 L1835.0,526.9 L1836.5,529.5 L1838.0,532.1 L1839.5,534.7 L1841.0,537.3 L1842.5,539.9 L1844.0,542.5 L1845.4,545.1 L1846.9,547.7 L1848.4,550.3 L1849.9,552.9 L1851.4,555.5 L1852.8,558.2 L1854.3,560.8 L1855.8,563.4 L1857.3,566.0 L1858.7,568.6 L1860.2,571.2 L1861.7,573.9 L1863.1,576.5 L1864.6,579.1 L1866.0,581.8 L1867.5,584.4 L1868.9,587.0 L1870.3,589.7 L1871.8,592.3 L1873.2,595.0 L1874.6,597.6 L1876.0,600.3 L1877.4,602.9 L1878.8,605.6 L1880.2,608.2 L1881.6,610.9 L1883.0,613.6 L1884.4,616.3 L1885.7,618.9 L1887.1,621.6 L1888.5,624.3 L1889.8,627.0 L1891.2,629.7 L1892.5,632.4 L1893.8,635.1 L1895.1,637.8 L1896.5,640.5 L1897.8,643.2 L1899.1,645.9 L1900.4,648.6 L1901.6,651.3 L1902.9,654.1 L1904.2,656.8 L1905.5,659.5 L1906.7,662.3 L1908.0,665.0 L1909.2,667.7 L1910.4,670.5 L1911.7,673.2 L1912.9,676.0 L1914.1,678.7 L1915.3,681.5 L1916.0,683.1" fill="none" stroke="#0000ff" stroke-width="5.2" stroke-linejoin="round" stroke-linecap="butt"/>
<text transform="translate(229.0,73.7) scale(1,1.050)" x="0" y="0" font-family="Liberation Sans, Arial, Helvetica, sans-serif" font-size="63.0" font-weight="bold" fill="#000" text-anchor="end">1.0</text>
<text transform="translate(229.0,405.2) scale(1,1.050)" x="0" y="0" font-family="Liberation Sans, Arial, Helvetica, sans-serif" font-size="63.0" font-weight="bold" fill="#000" text-anchor="end">0.9</text>
<text transform="translate(229.0,736.7) scale(1,1.050)" x="0" y="0" font-family="Liberation Sans, Arial, Helvetica, sans-serif" font-size="63.0" font-weight="bold" fill="#000" text-anchor="end">0.8</text>
<text transform="translate(229.0,1068.2) scale(1,1.050)" x="0" y="0" font-family="Liberation Sans, Arial, Helvetica, sans-serif" font-size="63.0" font-weight="bold" fill="#000" text-anchor="end">0.7</text>
<text transform="translate(229.0,1399.7) scale(1,1.050)" x="0" y="0" font-family="Liberation Sans, Arial, Helvetica, sans-serif" font-size="63.0" font-weight="bold" fill="#000" text-anchor="end">0.6</text>
<text transform="translate(517.3,1473.7) scale(1,1.050)" x="0" y="0" font-family="Liberation Sans, Arial, Helvetica, sans-serif" font-size="63.0" font-weight="bold" fill="#000" text-anchor="middle">1000</text>
<text transform="translate(867.3,1473.7) scale(1,1.050)" x="0" y="0" font-family="Liberation Sans, Arial, Helvetica, sans-serif" font-size="63.0" font-weight="bold" fill="#000" text-anchor="middle">2000</text>
<text transform="translate(1217.2,1473.7) scale(1,1.050)" x="0" y="0" font-family="Liberation Sans, Arial, Helvetica, sans-serif" font-size="63.0" font-weight="bold" fill="#000" text-anchor="middle">3000</text>
<text transform="translate(1567.2,1473.7) scale(1,1.050)" x="0" y="0" font-family="Liberation Sans, Arial, Helvetica, sans-serif" font-size="63.0" font-weight="bold" fill="#000" text-anchor="middle">4000</text>
<text transform="translate(1917.2,1473.7) scale(1,1.050)" x="0" y="0" font-family="Liberation Sans, Arial, Helvetica, sans-serif" font-size="63.0" font-weight="bold" fill="#000" text-anchor="middle">5000</text>
<text x="703.5" y="1566.8" font-family="Liberation Sans, Arial, Helvetica, sans-serif" font-size="94.0" font-weight="bold" fill="#000" text-anchor="start">Wavelength (nm)</text>
<text transform="translate(105.8,994.3) rotate(-90) scale(1,1.000)" x="0" y="0" font-family="Liberation Sans, Arial, Helvetica, sans-serif" font-weight="bold" font-size="94.0" text-anchor="start">Absorptivity</text>
<text transform="translate(1203.0,469.0) scale(1,1.030)" x="0" y="0" font-family="Liberation Sans, Arial, Helvetica, sans-serif" font-size="69.6" font-weight="normal" fill="#ff0000" text-anchor="middle">335nm~4865nm</text>
<text x="1201.6" y="551.7" font-family="Liberation Sans, Arial, Helvetica, sans-serif" font-size="69.3" font-weight="normal" fill="#ff0000" text-anchor="middle">average absorptivity 0.966</text>
<line x1="1431" y1="1197.5" x2="1590.5" y2="1197.5" stroke="#ff0000" stroke-width="5.2"/>
<line x1="1431" y1="1282.6" x2="1590.5" y2="1282.6" stroke="#0000ff" stroke-width="5.2"/>
<text x="1606.0" y="1220.9" font-family="Liberation Sans, Arial, Helvetica, sans-serif" font-size="62.6" font-weight="bold" fill="#000" text-anchor="start">modified</text>
<text x="1606.0" y="1304.7" font-family="Liberation Sans, Arial, Helvetica, sans-serif" font-size="62.6" font-weight="bold" fill="#000" text-anchor="start">original</text>
</svg></body></html>
